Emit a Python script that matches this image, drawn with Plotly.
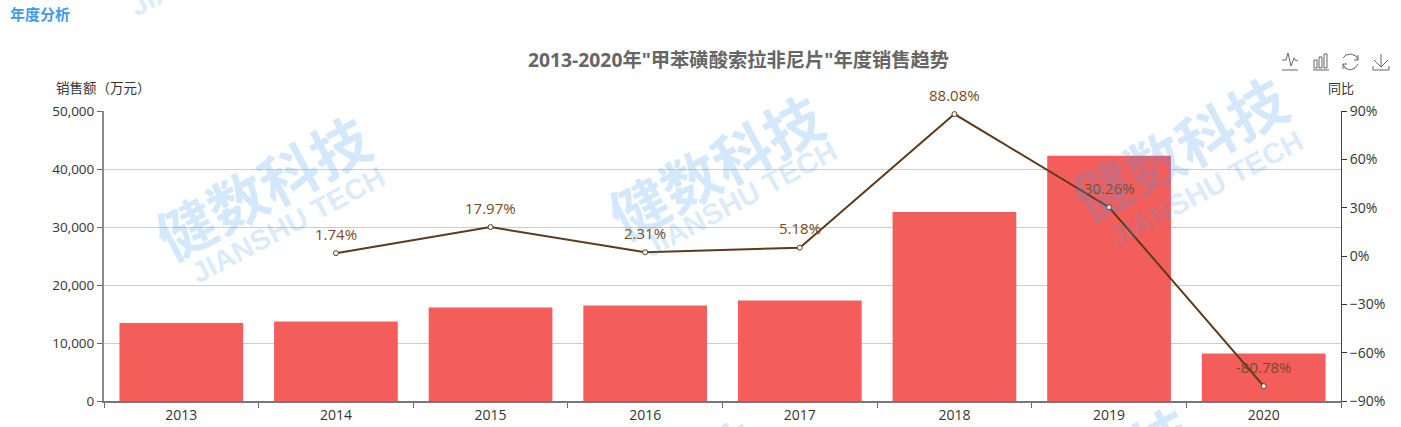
"""Annual sales trend chart: bars for sales, line for year-on-year change."""

from __future__ import annotations

import plotly.graph_objs as go

WIDTH = 1401
HEIGHT = 427
LEFT, RIGHT, TOP, BOTTOM = 104, 1341, 111, 401
FONT = "Open Sans, Noto Sans CJK SC, sans-serif"
CJK_FONT = "Noto Sans CJK SC, sans-serif"
MARK_CN = "rgba(60,150,240,0.22)"
MARK_EN = "rgba(60,150,240,0.2)"

YEARS = ["2013", "2014", "2015", "2016", "2017", "2018", "2019", "2020"]
SALES = [13450, 13700, 16100, 16470, 17330, 32590, 42300, 8200]
YOY = [None, 1.74, 17.97, 2.31, 5.18, 88.08, 30.26, -80.78]

# centre of each watermark block: (cn x, cn y, en x, en y)
WATERMARKS = [
    (262, 186, 288, 225),
    (715, 165, 740, 199),
    (1179, 147, 1206, 189),
]


def px(x: float) -> float:
    return (x - LEFT) / (RIGHT - LEFT)


def py(y: float) -> float:
    return (BOTTOM - y) / (BOTTOM - TOP)


def add_text(fig: go.Figure, x, y, text, size, color, family=CJK_FONT, angle=0, anchor="center"):
    fig.add_annotation(
        x=px(x), y=py(y), xref="paper", yref="paper", text=text, showarrow=False,
        xanchor=anchor, yanchor="middle", textangle=angle,
        font=dict(family=family, size=size, color=color),
    )


def add_icon(fig: go.Figure, path_points):
    # toolbox glyphs, given in screen pixels
    for points in path_points:
        path = "M" + " L".join(f"{px(x):.5f},{py(y):.5f}" for x, y in points)
        fig.add_shape(type="path", path=path, xref="paper", yref="paper",
                      line=dict(color="#666666", width=1))


fig = go.Figure()
fig.add_trace(go.Bar(x=YEARS, y=SALES, width=0.8, marker=dict(color="#f45e5a", line=dict(width=0)),
                     name="销售额", yaxis="y"))
fig.add_trace(go.Scatter(
    x=YEARS, y=YOY, mode="lines+markers", name="同比", yaxis="y2",
    line=dict(color="#5e3a1c", width=2),
    marker=dict(size=5, color="#ffffff", line=dict(color="#5e3a1c", width=1)),
    cliponaxis=False,
))

fig.update_layout(
    width=WIDTH, height=HEIGHT, autosize=False,
    margin=dict(l=LEFT, r=WIDTH - RIGHT, t=TOP, b=HEIGHT - BOTTOM, pad=0),
    paper_bgcolor="#ffffff", plot_bgcolor="#ffffff",
    showlegend=False,
    font=dict(family=FONT, size=13, color="#333333"),
    xaxis=dict(type="category", range=[-0.5, 7.5], tickson="boundaries", ticks="outside", ticklen=5,
               tickcolor="#666666", showline=True, linecolor="#777777", linewidth=2, showgrid=False,
               automargin=False, tickfont=dict(size=14, color="#333333")),
    yaxis=dict(range=[0, 50000], dtick=10000, tickformat=",d", ticks="outside", ticklen=5,
               tickcolor="#666666", showline=True, linecolor="#8a8a8a", linewidth=2,
               gridcolor="#cccccc", gridwidth=1, zeroline=False,
               automargin=False, tickfont=dict(size=13.5, color="#333333")),
    yaxis2=dict(range=[-90, 90], dtick=30, overlaying="y", side="right", ticksuffix="%", ticks="outside",
                ticklen=5, tickcolor="#333333", showline=True, linecolor="#444444", linewidth=1,
                showgrid=False, zeroline=False, automargin=False,
                tickfont=dict(size=14, color="#333333")),
)

# annotations on a category axis take the category position, not its name
for position, value in enumerate(YOY):
    if value is None:
        continue
    fig.add_annotation(x=position, y=value, xref="x", yref="y2", yshift=19.5, showarrow=False,
                       text=f"{value:.2f}%", font=dict(family=FONT, size=15, color="#7a4a22"))

add_text(fig, 738, 60, '<b>2013-2020年"甲苯磺酸索拉非尼片"年度销售趋势</b>', 19.3, "#666666",
         family="Open Sans, Noto Sans CJK SC")
add_text(fig, 8, 13, "<b>年度分析</b>", 15, "#3f9bea", anchor="left")
add_text(fig, 103, 87, "销售额（万元）", 13.5, "#333333")
add_text(fig, 1341, 87, "同比", 13, "#333333")

for cn_x, cn_y, en_x, en_y in WATERMARKS:
    add_text(fig, cn_x, cn_y, "<b>健数科技</b>", 58, MARK_CN, angle=-28)
    add_text(fig, en_x, en_y, "<b>JIANSHU TECH</b>", 29, MARK_EN, family="Liberation Sans", angle=-28)
add_text(fig, 226, -42, "<b>JIANSHU TECH</b>", 29, MARK_EN, family="Liberation Sans", angle=-28)
add_text(fig, 727, 450, "<b>技</b>", 58, MARK_CN, angle=-28)
add_text(fig, 1160, 437, "<b>技</b>", 58, MARK_CN, angle=-28)

add_icon(fig, [
    [(1282, 60), (1286, 60), (1288, 53), (1291, 66), (1294, 58), (1296, 61), (1298, 60)],
    [(1282, 70), (1298, 70)],
    [(1313, 70), (1329, 70)],
    [(1314, 68), (1314, 60), (1317, 60), (1317, 68), (1314, 68)],
    [(1319, 68), (1319, 57), (1322, 57), (1322, 68), (1319, 68)],
    [(1324, 68), (1324, 54), (1327, 54), (1327, 68), (1324, 68)],
    [(1343, 58), (1346, 55), (1351, 54), (1356, 56), (1358, 60)],
    [(1358, 64), (1355, 68), (1350, 70), (1345, 68), (1343, 64)],
    [(1358, 55), (1358, 60), (1354, 60)],
    [(1343, 69), (1343, 64), (1347, 64)],
    [(1381, 54), (1381, 67)],
    [(1374, 60), (1381, 67), (1388, 60)],
    [(1373, 66), (1373, 70), (1389, 70), (1389, 66)],
])

fig.write_html("out.html", config={"displayModeBar": False}, post_script="document.body.style.margin='0';")
